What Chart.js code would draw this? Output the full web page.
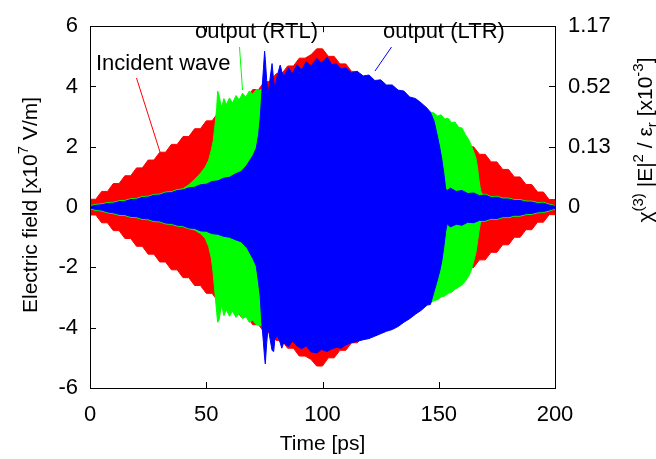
<!DOCTYPE html>
<html>
<head>
<meta charset="utf-8">
<script src="https://cdn.jsdelivr.net/npm/chart.js@4/dist/chart.umd.min.js"></script>
<style>
  html, body { margin: 0; padding: 0; background: #fff; }
  #wrap { width: 656px; height: 459px; }
</style>
</head>
<body>
<div id="wrap"><canvas id="field" width="656" height="459"></canvas></div>
<script>
// incident wave envelope [x10^7 V/m]
const redTime = [0, 2.5, 5, 7.5, 10, 12.5, 15, 17.5, 20, 22.5, 25, 27.5, 30, 32.5, 35, 37.5, 40, 42.5, 45, 47.5,
  50, 52.5, 55, 57.5, 60, 62.5, 65, 67.5, 70, 72.5, 75, 77.5, 80, 82.5, 85, 87.5, 90, 92.5, 95, 97.5,
  100, 102.5, 105, 107.5, 110, 112.5, 115, 117.5, 120, 122.5, 125, 127.5, 130, 132.5, 135, 137.5, 140, 142.5, 145, 147.5,
  150, 152.5, 155, 157.5, 160, 162.5, 165, 167.5, 170, 172.5, 175, 177.5, 180, 182.5, 185, 187.5, 190, 192.5, 195, 197.5, 200];
const redUpper = [0.26, 0.26, 0.52, 0.52, 0.78, 0.78, 1.04, 1.04, 1.30, 1.30, 1.56, 1.56, 1.82, 1.82, 2.08, 2.08, 2.34, 2.34, 2.60, 2.60,
  2.86, 2.86, 3.12, 3.12, 3.38, 3.38, 3.64, 3.64, 3.90, 3.90, 4.16, 4.16, 4.42, 4.42, 4.68, 4.68, 4.94, 4.94, 5.05, 5.25,
  5.25, 5.00, 5.00, 4.75, 4.75, 4.50, 4.50, 4.25, 4.25, 4.00, 4.00, 3.75, 3.75, 3.50, 3.50, 3.25, 3.25, 3.00, 3.00, 2.75,
  2.75, 2.50, 2.50, 2.25, 2.25, 2.00, 2.00, 1.75, 1.75, 1.50, 1.50, 1.25, 1.25, 1.00, 1.00, 0.75, 0.75, 0.50, 0.50, 0.25, 0.25];
const redLower = [-0.26, -0.26, -0.52, -0.52, -0.78, -0.78, -1.04, -1.04, -1.30, -1.30, -1.56, -1.56, -1.82, -1.82, -2.08, -2.08, -2.34, -2.34, -2.60, -2.60,
  -2.86, -2.86, -3.12, -3.12, -3.38, -3.38, -3.64, -3.64, -3.90, -3.90, -4.16, -4.16, -4.42, -4.42, -4.68, -4.68, -4.94, -4.94, -5.05, -5.27,
  -5.27, -5.00, -5.00, -4.75, -4.75, -4.50, -4.50, -4.25, -4.25, -4.00, -4.00, -3.75, -3.75, -3.50, -3.50, -3.25, -3.25, -3.00, -3.00, -2.75,
  -2.75, -2.50, -2.50, -2.25, -2.25, -2.00, -2.00, -1.75, -1.75, -1.50, -1.50, -1.25, -1.25, -1.00, -1.00, -0.75, -0.75, -0.50, -0.50, -0.25, -0.25];

// output, right-to-left
const greenTime = [0, 2.5, 5, 7.5, 10, 12.5, 15, 17.5, 20, 22.5, 25, 27.5, 30, 32.5, 35, 37.5, 40, 42.5, 45, 47.5,
  49.5, 51, 52.2, 53, 53.8, 54.5, 54.9, 55.5, 56.6, 57.6, 58.6, 60, 61.3, 62.8, 64.2, 65.6, 67, 68.5, 70, 71.5,
  73, 75, 76.6, 78, 80, 90, 100, 110, 120, 130, 140, 145, 146.5, 148, 149.5, 151, 152.5, 154, 155.5, 157,
  158.5, 160, 161.5, 162.8, 164, 165.2, 166, 166.7, 167.3, 168, 168.8, 170, 172.5, 175, 177.5, 180, 182.5, 185, 187.5, 190,
  192.5, 195, 197.5, 200];
const greenUpper = [0.05, 0.09, 0.11, 0.15, 0.16, 0.21, 0.22, 0.28, 0.29, 0.35, 0.36, 0.42, 0.43, 0.50, 0.51, 0.58, 0.61, 0.74, 0.92, 1.12,
  1.32, 1.55, 1.90, 2.20, 2.75, 3.30, 3.85, 3.70, 3.30, 3.60, 3.40, 3.62, 3.45, 3.70, 3.55, 3.78, 3.65, 3.85, 3.75, 3.90,
  3.88, 3.95, 3.85, 3.90, 3.80, 4.30, 4.50, 4.30, 4.00, 3.70, 3.35, 3.20, 3.15, 3.12, 3.02, 3.06, 2.92, 2.95, 2.80, 2.82,
  2.65, 2.62, 2.40, 2.25, 2.05, 1.80, 1.62, 1.30, 0.90, 0.55, 0.42, 0.43, 0.35, 0.36, 0.30, 0.30, 0.25, 0.25, 0.20, 0.20,
  0.15, 0.16, 0.10, 0.05];
const greenLower = [-0.06, -0.11, -0.13, -0.19, -0.22, -0.27, -0.28, -0.34, -0.35, -0.41, -0.42, -0.48, -0.49, -0.56, -0.57, -0.63, -0.65, -0.72, -0.76, -0.88,
  -1.03, -1.30, -1.70, -2.20, -2.90, -3.50, -3.82, -3.75, -3.23, -3.60, -3.40, -3.62, -3.45, -3.66, -3.52, -3.70, -3.62, -3.82, -3.75, -3.90,
  -3.93, -3.95, -3.90, -3.90, -3.90, -4.40, -4.50, -4.30, -4.00, -3.70, -3.35, -3.20, -3.18, -3.10, -3.07, -2.98, -2.95, -2.86, -2.83, -2.72,
  -2.66, -2.58, -2.45, -2.30, -2.10, -1.75, -1.50, -1.15, -0.80, -0.50, -0.47, -0.47, -0.40, -0.41, -0.35, -0.35, -0.30, -0.30, -0.25, -0.24,
  -0.19, -0.18, -0.13, -0.06];

// output, left-to-right
const blueTime = [0, 2.5, 5, 7.5, 10, 12.5, 15, 17.5, 20, 22.5, 25, 27.5, 30, 32.5, 35, 37.5, 40, 42.5, 45, 47.5,
  50, 52.5, 55, 57.5, 60, 62.5, 65, 67.5, 70, 71.5, 72.5, 73.2, 73.9, 74.6, 75.1, 75.4, 76, 76.6, 77.5, 78.3,
  79, 79.5, 80.5, 81.8, 82.5, 83.3, 85.4, 87, 89, 91, 93, 95, 97.6, 99.5, 102, 104, 106, 108, 110, 112.5,
  115, 117.5, 120, 122.5, 125, 127.5, 130, 132.5, 135, 137.5, 140, 142.5, 145, 146.4, 148, 149.3, 150.5, 151.4, 152.3, 153,
  153.6, 155, 157.5, 160, 162.5, 165, 167.5, 170, 172.5, 175, 177.5, 180, 182.5, 185, 187.5, 190, 192.5, 195, 197.5, 200];
const blueUpper = [0.02, 0.06, 0.08, 0.12, 0.13, 0.18, 0.19, 0.25, 0.26, 0.32, 0.33, 0.39, 0.40, 0.47, 0.48, 0.55, 0.57, 0.64, 0.66, 0.74,
  0.76, 0.85, 0.87, 0.96, 0.99, 1.10, 1.18, 1.40, 1.70, 1.95, 2.40, 2.94, 3.80, 4.60, 5.17, 4.90, 4.20, 3.69, 4.30, 4.76,
  4.20, 3.90, 4.35, 4.71, 4.50, 4.33, 4.62, 4.42, 4.72, 4.55, 4.82, 4.68, 4.93, 4.78, 4.98, 4.72, 4.75, 4.58, 4.62, 4.45,
  4.50, 4.35, 4.38, 4.20, 4.22, 4.05, 4.05, 3.88, 3.85, 3.65, 3.60, 3.45, 3.28, 3.15, 2.85, 2.40, 1.95, 1.55, 1.05, 0.60,
  0.55, 0.63, 0.52, 0.55, 0.45, 0.47, 0.38, 0.40, 0.32, 0.33, 0.27, 0.27, 0.22, 0.22, 0.17, 0.17, 0.12, 0.13, 0.07, 0.03];
const blueLower = [-0.03, -0.08, -0.10, -0.16, -0.19, -0.24, -0.25, -0.31, -0.32, -0.38, -0.39, -0.45, -0.46, -0.53, -0.54, -0.60, -0.62, -0.69, -0.71, -0.79,
  -0.80, -0.88, -0.90, -0.97, -1.00, -1.08, -1.15, -1.35, -1.70, -1.95, -2.50, -2.95, -3.85, -4.50, -5.00, -5.20, -4.50, -4.00, -4.40, -4.75,
  -4.79, -4.40, -4.25, -4.50, -4.68, -4.50, -4.62, -4.45, -4.60, -4.70, -4.60, -4.80, -4.84, -4.72, -4.79, -4.70, -4.65, -4.68, -4.57, -4.50,
  -4.45, -4.40, -4.36, -4.28, -4.20, -4.12, -4.06, -3.96, -3.82, -3.70, -3.55, -3.42, -3.25, -3.23, -2.80, -2.45, -2.10, -1.75, -1.25, -0.80,
  -0.55, -0.66, -0.57, -0.60, -0.50, -0.52, -0.44, -0.44, -0.37, -0.38, -0.32, -0.32, -0.27, -0.27, -0.22, -0.21, -0.16, -0.15, -0.10, -0.04];

// axes
const xTicks = [0, 50, 100, 150, 200];
const yTicks = [-6, -4, -2, 0, 2, 4, 6];
const chiTickPos = [0, 2, 4, 6];
const chiTickLabels = ['0', '0.13', '0.52', '1.17'];

const FONT = '"Liberation Sans", Arial, Helvetica, sans-serif';

function pts(t, v) {
  return t.map((x, i) => ({x: x, y: v[i]}));
}

function band(t, up, low, color, order) {
  return [
    {data: pts(t, up), borderColor: color, backgroundColor: color, borderWidth: 1,
     pointRadius: 0, fill: '+1', order: order},
    {data: pts(t, low), borderColor: color, backgroundColor: color, borderWidth: 1,
     pointRadius: 0, fill: false, order: order}
  ];
}

// draws a string made of plain / super / subscript pieces, centred on 0
function richText(ctx, parts, size) {
  const small = Math.round(size * 0.72);
  let w = 0;
  parts.forEach(p => {
    ctx.font = (p[1] ? small : size) + 'px ' + FONT;
    p.w = ctx.measureText(p[0]).width;
    w += p.w;
  });
  let x = -w / 2;
  parts.forEach(p => {
    ctx.font = (p[1] ? small : size) + 'px ' + FONT;
    let dy = 0;
    if (p[1] == 'sup') dy = -size * 0.42;
    if (p[1] == 'sub') dy = size * 0.22;
    ctx.fillText(p[0], x, dy);
    x += p.w;
  });
}

const decorations = {
  id: 'decorations',
  afterDraw(chart) {
    const ctx = chart.ctx;
    const a = chart.chartArea;
    const sx = chart.scales.x, sy = chart.scales.y;
    ctx.save();
    ctx.strokeStyle = '#000';
    ctx.lineWidth = 1;
    ctx.strokeRect(Math.round(a.left) + 0.5, Math.round(a.top) + 0.5,
      Math.round(a.right - a.left), Math.round(a.bottom - a.top));

    // inward tick marks
    const tl = 6;
    ctx.beginPath();
    xTicks.forEach(v => {
      const px = Math.round(sx.getPixelForValue(v)) + 0.5;
      ctx.moveTo(px, a.bottom); ctx.lineTo(px, a.bottom - tl);
      ctx.moveTo(px, a.top); ctx.lineTo(px, a.top + tl);
    });
    yTicks.forEach(v => {
      const py = Math.round(sy.getPixelForValue(v)) + 0.5;
      ctx.moveTo(a.left, py); ctx.lineTo(a.left + tl, py);
    });
    chiTickPos.forEach(v => {
      const py = Math.round(sy.getPixelForValue(v)) + 0.5;
      ctx.moveTo(a.right, py); ctx.lineTo(a.right - tl, py);
    });
    ctx.stroke();

    ctx.fillStyle = '#000';
    ctx.textBaseline = 'alphabetic';
    ctx.textAlign = 'left';

    // axis titles
    ctx.font = '21px ' + FONT;
    ctx.textAlign = 'center';
    ctx.fillText('Time [ps]', (a.left + a.right) / 2, 450);
    ctx.textAlign = 'left';

    ctx.save();
    ctx.translate(37, 205);
    ctx.rotate(-Math.PI / 2);
    richText(ctx, [['Electric field [x10'], ['7', 'sup'], [' V/m]']], 21);
    ctx.restore();

    ctx.save();
    ctx.translate(652, 140);
    ctx.rotate(-Math.PI / 2);
    richText(ctx, [['\u03c7'], ['(3)', 'sup'], [' |E|'], ['2', 'sup'], [' / \u03b5'], ['r', 'sub'],
      [' [x10'], ['-3', 'sup'], [']']], 21);
    ctx.restore();

    // labels with pointer lines
    ctx.font = '22px ' + FONT;
    ctx.fillText('Incident wave', 96, 70);
    ctx.fillText('output (RTL)', 195, 38);
    ctx.fillText('output (LTR)', 383, 38);

    const pointer = (color, x1, y1, x2, y2) => {
      ctx.strokeStyle = color;
      ctx.beginPath();
      ctx.moveTo(x1, y1); ctx.lineTo(x2, y2);
      ctx.stroke();
    };
    pointer('#ff0000', 136.5, 78, 160, 152);
    pointer('#00ff00', 239.5, 47, 242.5, 90);
    pointer('#0000ff', 391.5, 47, 375, 71);
    ctx.restore();
  }
};

new Chart(document.getElementById('field'), {
  type: 'line',
  data: {
    datasets: [
      ...band(blueTime, blueUpper, blueLower, '#0000ff', 1),
      ...band(greenTime, greenUpper, greenLower, '#00ff00', 2),
      ...band(redTime, redUpper, redLower, '#ff0000', 3)
    ]
  },
  options: {
    responsive: false,
    animation: false,
    layout: {padding: {top: 15, left: 0, right: 0, bottom: 0}},
    plugins: {legend: {display: false}, tooltip: {enabled: false}},
    elements: {line: {tension: 0}},
    scales: {
      x: {
        type: 'linear', min: 0, max: 200,
        afterBuildTicks: s => { s.ticks = xTicks.map(v => ({value: v})); },
        afterFit: s => { s.height = 71; },
        grid: {display: false, drawTicks: false},
        border: {display: false},
        ticks: {color: '#000', padding: 14, maxRotation: 0, font: {family: FONT, size: 22}}
      },
      y: {
        position: 'left', min: -6, max: 6,
        afterBuildTicks: s => { s.ticks = yTicks.map(v => ({value: v})); },
        afterFit: s => { s.width = 90; },
        grid: {display: false, drawTicks: false},
        border: {display: false},
        ticks: {color: '#000', padding: 12, font: {family: FONT, size: 22}}
      },
      y2: {
        position: 'right', min: -6, max: 6,
        afterBuildTicks: s => { s.ticks = chiTickPos.map(v => ({value: v})); },
        afterFit: s => { s.width = 101; },
        grid: {display: false, drawTicks: false},
        border: {display: false},
        ticks: {
          color: '#000', padding: 13, font: {family: FONT, size: 22},
          callback: v => chiTickLabels[chiTickPos.indexOf(v)]
        }
      }
    }
  },
  plugins: [decorations]
});
</script>
</body>
</html>
